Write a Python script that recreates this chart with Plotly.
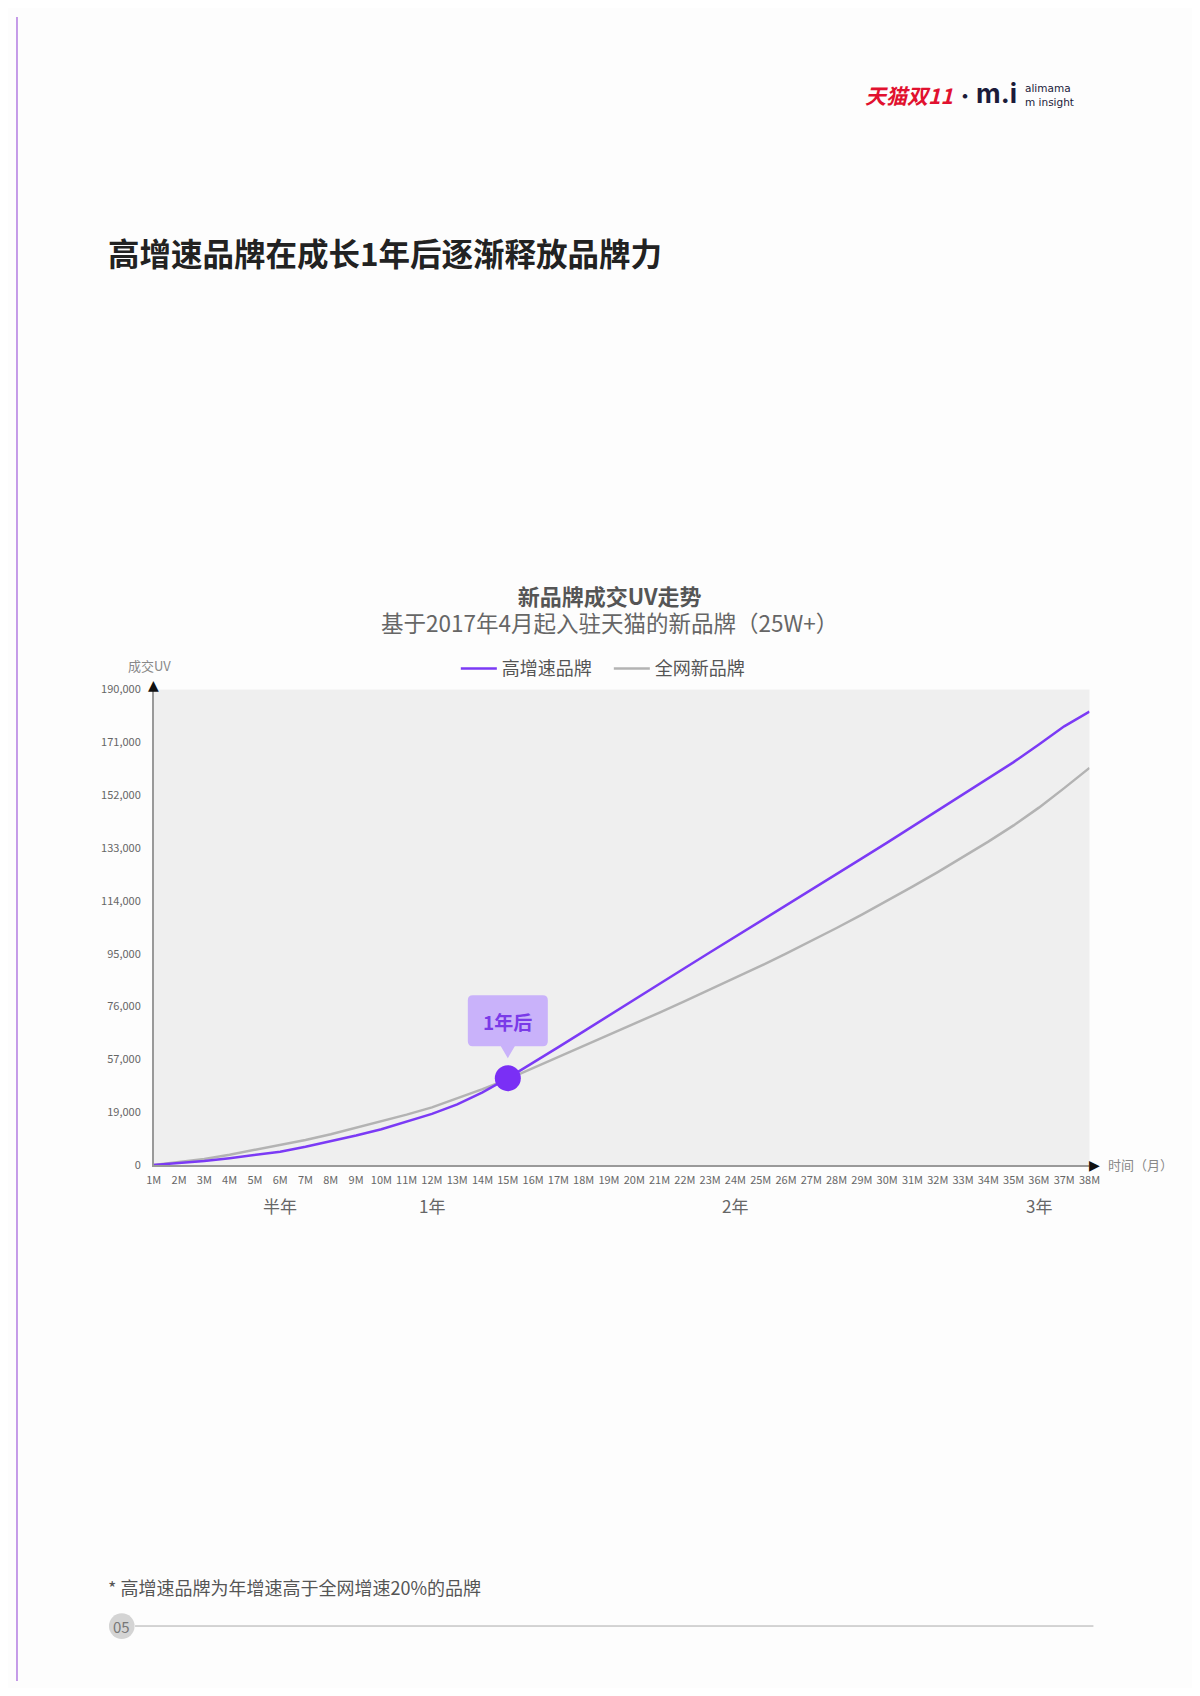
import plotly.graph_objects as go

FONT = "Noto Sans CJK SC, Noto Sans, sans-serif"

months = list(range(1, 39))
x_tick_labels = [f"{m}M" for m in months]

high_growth = [0, 700, 1600, 2700, 3900, 5300, 7300, 9500, 11800, 14300,
               17200, 20400, 24200, 29000, 34700, 40800, 47100, 53400, 59800, 66200,
               72500, 78700, 85000, 91200, 97500, 103700, 109900, 116200, 122500, 128800,
               135200, 141700, 148200, 154600, 161000, 168000, 175300, 181200]
all_new = [0, 1100, 2400, 4100, 6000, 7900, 10000, 12300, 14800, 17400,
           20100, 23000, 26500, 30300, 34300, 38700, 43100, 47500, 51900, 56400,
           60900, 65450, 70050, 74750, 79550, 84450, 89500, 94700, 100050, 105550,
           111200, 117000, 123000, 129200, 135700, 142800, 150600, 158700]

series_names = ["高增速品牌", "全网新品牌"]
y_tick_labels = ["0", "19,000", "57,000", "76,000", "95,000", "114,000",
                 "133,000", "152,000", "171,000", "190,000"]
y_max = 190000
period_months = [6, 12, 24, 36]
period_labels = ["半年", "1年", "2年", "3年"]
highlight_month = 15
highlight_label = "1年后"

PURPLE = "#7b3af5"
GRAY = "#b3b3b3"

W, H = 1184, 1680  # page is 1200x1696 with the default 8px body margin


def fx(x):
    return x / W


def fy(y):
    return 1 - y / H


fig = go.Figure()
fig.add_trace(go.Scatter(x=months, y=all_new, name=series_names[1], mode="lines",
                         line=dict(color=GRAY, width=2.5)))
fig.add_trace(go.Scatter(x=months, y=high_growth, name=series_names[0], mode="lines",
                         line=dict(color=PURPLE, width=2.5)))
hi_val = high_growth[months.index(highlight_month)]
fig.add_trace(go.Scatter(x=[highlight_month], y=[hi_val], mode="markers", showlegend=False,
                         marker=dict(color="#7a2ff5", size=26), cliponaxis=False))

tickvals = [i * y_max / (len(y_tick_labels) - 1) for i in range(len(y_tick_labels))]

ann = []
# callout text
ann.append(dict(x=highlight_month, y=hi_val, xref="x", yref="y", text="<b>" + highlight_label + "</b>",
                showarrow=False, yshift=57, font=dict(family=FONT, size=19, color="#7a3ae8")))
# axis arrows
ann.append(dict(x=1, y=y_max, xref="x", yref="y", text="▲", showarrow=False, yanchor="bottom",
                yshift=-5, font=dict(family="DejaVu Sans", size=14, color="#111")))
ann.append(dict(x=38, y=0, xref="x", yref="y", text="▶", showarrow=False, xanchor="left",
                xshift=-2, font=dict(family="DejaVu Sans", size=14, color="#111")))
ann.append(dict(x=1, y=y_max, xref="x", yref="y", text="成交UV", showarrow=False,
                yanchor="bottom", xanchor="center", yshift=13, xshift=-4,
                font=dict(family=FONT, size=13, color="#888")))
ann.append(dict(x=38, y=0, xref="x", yref="y", text="时间（月）", showarrow=False,
                xanchor="left", xshift=17, font=dict(family=FONT, size=13, color="#888")))
for m, lab in zip(period_months, period_labels):
    ann.append(dict(x=m, y=fy(1200), xref="x", yref="paper", text=lab, showarrow=False,
                    yanchor="middle", font=dict(family=FONT, size=17, color="#666")))
# titles
ann.append(dict(x=fx(91), y=fy(237), xref="paper", yref="paper", xanchor="left",
                yanchor="middle", text="<b>高增速品牌在成长1年后逐渐释放品牌力</b>", showarrow=False,
                font=dict(family=FONT, size=31.5, color="#222")))
ann.append(dict(x=fx(603), y=fy(597), xref="paper", yref="paper", xanchor="center",
                yanchor="middle",
                text=("<b><span style='font-size:22px'>新品牌成交UV走势</span></b><br>"
                      "<span style='color:#666;font-size:22.5px'>基于2017年4月起入驻天猫的新品牌（25W+）</span>"),
                showarrow=False, align="center",
                font=dict(family=FONT, size=21, color="#555")))
# footnote
ann.append(dict(x=fx(91), y=fy(1585), xref="paper", yref="paper", xanchor="left",
                yanchor="middle", text="* 高增速品牌为年增速高于全网增速20%的品牌", showarrow=False,
                font=dict(family=FONT, size=18, color="#555")))
ann.append(dict(x=fx(107.5), y=fy(1624.5), xref="paper", yref="paper", xanchor="center",
                yanchor="middle", text="05", showarrow=False,
                font=dict(family=FONT, size=15, color="#777")))
# logo
ann.append(dict(x=fx(861), y=fy(79), xref="paper", yref="paper", xanchor="left",
                yanchor="middle", text="<b><i>天猫双11</i></b>", showarrow=False,
                font=dict(family=FONT, size=21, color="#e1112f")))
ann.append(dict(x=fx(964), y=fy(79), xref="paper", yref="paper", xanchor="center",
                yanchor="middle", text="<b>·</b>", showarrow=False,
                font=dict(family=FONT, size=18, color="#1b1b3a")))
ann.append(dict(x=fx(974), y=fy(77), xref="paper", yref="paper", xanchor="left",
                yanchor="middle", text="<b>m.i</b>", showarrow=False,
                font=dict(family="Inter, DejaVu Sans", size=27, color="#1b1b3a")))
ann.append(dict(x=fx(1023), y=fy(79), xref="paper", yref="paper", xanchor="left",
                yanchor="middle", text="alimama<br>m insight", showarrow=False, align="left",
                font=dict(family="DejaVu Sans", size=10.5, color="#1b1b3a")))

callout_path = ("M -35,32 L -7,32 L 0,20 L 7,32 L 35,32 Q 40,32 40,37 L 40,78 Q 40,83 35,83 "
                "L -35,83 Q -40,83 -40,78 L -40,37 Q -40,32 -35,32 Z")

shapes = [
    dict(type="path", xref="x", yref="y", xsizemode="pixel", ysizemode="pixel",
         xanchor=highlight_month, yanchor=hi_val, path=callout_path,
         fillcolor="#c9b2fa", line=dict(width=0), layer="above"),
    dict(type="line", xref="paper", yref="paper", x0=fx(121), x1=fx(1095),
         y0=fy(1624.5), y1=fy(1624.5), line=dict(color="#aaaaaa", width=1), layer="below"),
    dict(type="circle", xref="paper", yref="paper", x0=fx(94.5), x1=fx(120.5),
         y0=fy(1637.5), y1=fy(1611.5), fillcolor="#d4d4d4", line=dict(width=0), layer="below"),
    dict(type="rect", xref="paper", yref="paper", x0=0, x1=fx(2), y0=0, y1=1,
         fillcolor="#c49ae8", line=dict(width=0)),
]

fig.update_layout(
    width=W, height=H,
    margin=dict(l=0, r=0, t=0, b=0),
    paper_bgcolor="#fdfdfd",
    plot_bgcolor="#efefef",
    font=dict(family=FONT, color="#666"),
    showlegend=True,
    legend=dict(orientation="h", x=fx(447), y=fy(658), xanchor="left", yanchor="middle",
                traceorder="reversed", font=dict(family=FONT, size=18, color="#555"),
                bgcolor="rgba(0,0,0,0)", itemwidth=36, entrywidth=102),
    xaxis=dict(domain=[fx(140), fx(1091)], range=[1, 38], tickmode="array",
               tickvals=months, ticktext=x_tick_labels, showgrid=False, zeroline=False,
               showline=True, linecolor="#999", linewidth=1.5, ticks="", ticklabelstandoff=4,
               tickfont=dict(family=FONT, size=11, color="#666")),
    yaxis=dict(domain=[fy(1159), fy(679)], range=[0, y_max], tickmode="array",
               tickvals=tickvals, ticktext=y_tick_labels, showgrid=False, zeroline=False,
               showline=True, linecolor="#999", linewidth=1.5, ticks="", ticklabelstandoff=9,
               tickfont=dict(family=FONT, size=11, color="#666")),
    annotations=ann,
    shapes=shapes,
)

fig.write_html("out.html", config={"displayModeBar": False})
